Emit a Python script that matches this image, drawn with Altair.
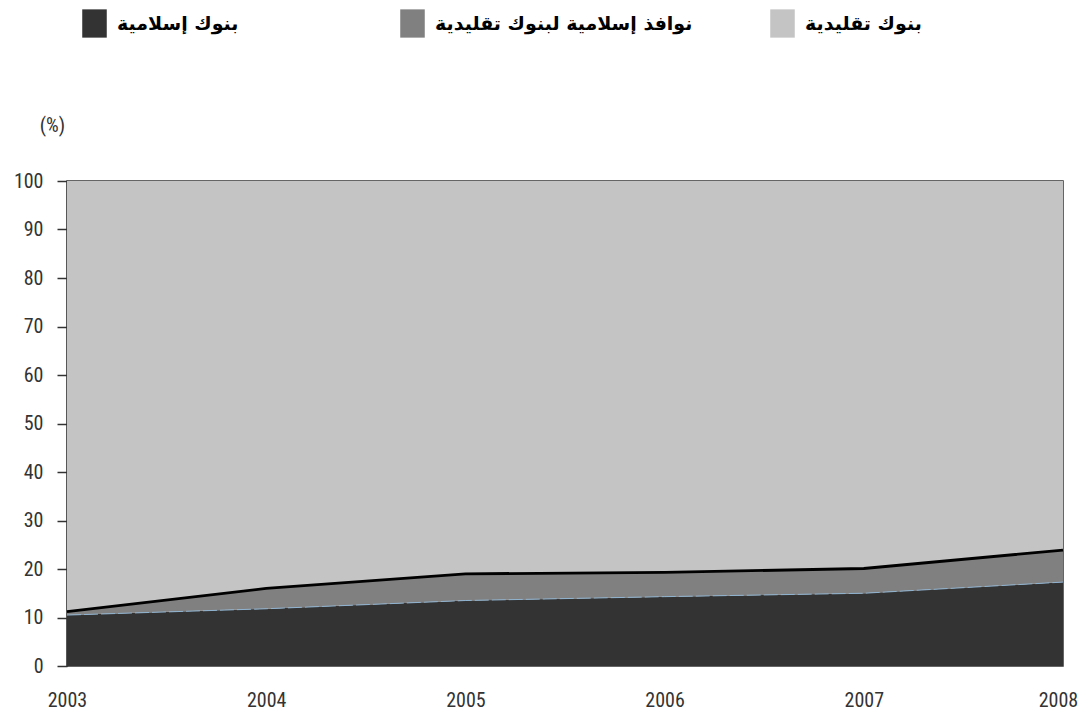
import altair as alt
import pandas as pd

years = [2003, 2004, 2005, 2006, 2007, 2008]
islamic_banks = [10.5, 11.8, 13.5, 14.3, 15.0, 17.3]
islamic_windows = [0.7, 4.2, 5.5, 5.0, 5.1, 6.6]
conventional = [88.8, 84.0, 81.0, 80.7, 79.9, 76.1]

names = ["بنوك إسلامية", "نوافذ إسلامية لبنوك تقليدية", "بنوك تقليدية"]
colors = ["#333333", "#808080", "#c4c4c4"]
y_ticks = [0, 10, 20, 30, 40, 50, 60, 70, 80, 90, 100]

df = pd.DataFrame({"year": years, "islamic": islamic_banks,
                   "windows": islamic_windows, "conv": conventional})
df["lo"] = 0.0
df["c1"] = df["islamic"]
df["c2"] = df["islamic"] + df["windows"]
df["c3"] = df["c2"] + df["conv"]

FONT = "Liberation Sans Narrow, Roboto Condensed, Arial Narrow, sans-serif"
AR_FONT = "DejaVu Sans"
RECT = "M-0.867,-1H0.867V1H-0.867Z"

base = alt.Chart(df)
xenc = alt.X("year:Q", scale=alt.Scale(domain=[2003, 2008], nice=False, zero=False),
             axis=alt.Axis(values=years, format="d", title=None, ticks=False,
                           domain=False, grid=False, labelPadding=24,
                           labelFontSize=20, labelFont=FONT, labelColor="#333",
                           labelFlush=False,
                           labelOffset={"condition": {"test": "datum.value == 2008",
                                                      "value": -5}, "value": 0}))
yscale = alt.Scale(domain=[0, 100], nice=False)
yaxis = alt.Axis(values=y_ticks, title="(%)", titleAngle=0, titleAlign="center",
                 titleX=-15, titleY=-56, titleBaseline="middle",
                 titleFont=FONT, titleFontSize=20, titleFontWeight="normal",
                 titleColor="#333", grid=False, tickSize=10, tickWidth=1.5,
                 tickColor="#333", domainColor="#333", domainWidth=1.5,
                 labelPadding=14, labelFont=FONT, labelFontSize=20,
                 labelColor="#333")


def area_layer(i, lo, hi, lx):
    return base.transform_calculate(series=f'"{names[i]}"').mark_area(opacity=1).encode(
        x=xenc,
        y=alt.Y(f"{hi}:Q", scale=yscale, axis=yaxis),
        y2=alt.Y2(f"{lo}:Q"),
        color=alt.Color("series:N",
                        scale=alt.Scale(domain=[names[i]], range=[colors[i]]),
                        legend=alt.Legend(orient="none", legendX=lx, legendY=-172,
                                          title=None, symbolType=RECT, symbolSize=800,
                                          symbolStrokeWidth=0, symbolOpacity=1,
                                          labelFont=AR_FONT, labelFontSize=19,
                                          labelFontWeight="bold", labelColor="#000",
                                          labelOffset=8, labelLimit=400)),
    )


a1 = area_layer(0, "lo", "c1", 13)
a2 = area_layer(1, "c1", "c2", 331)
a3 = area_layer(2, "c2", "c3", 701)

line_blue = base.mark_line(color="#8fb3d0", strokeWidth=1, strokeDash=[14, 3]).encode(
    x=xenc, y=alt.Y("c1:Q", scale=yscale, axis=yaxis))
line_black = base.mark_line(color="#000000", strokeWidth=2.8).encode(
    x=xenc, y=alt.Y("c2:Q", scale=yscale, axis=yaxis))

chart = alt.layer(a1, a2, a3, line_blue, line_black).resolve_scale(
    color="independent"
).properties(
    width=996, height=485,
    autosize=alt.AutoSizeParams(type="none"),
    padding={"left": 59, "top": 173, "right": 15, "bottom": 45},
).configure_view(stroke="#333", strokeWidth=1.5)

chart.save("out.html", embed_options={"renderer": "svg", "actions": False})
